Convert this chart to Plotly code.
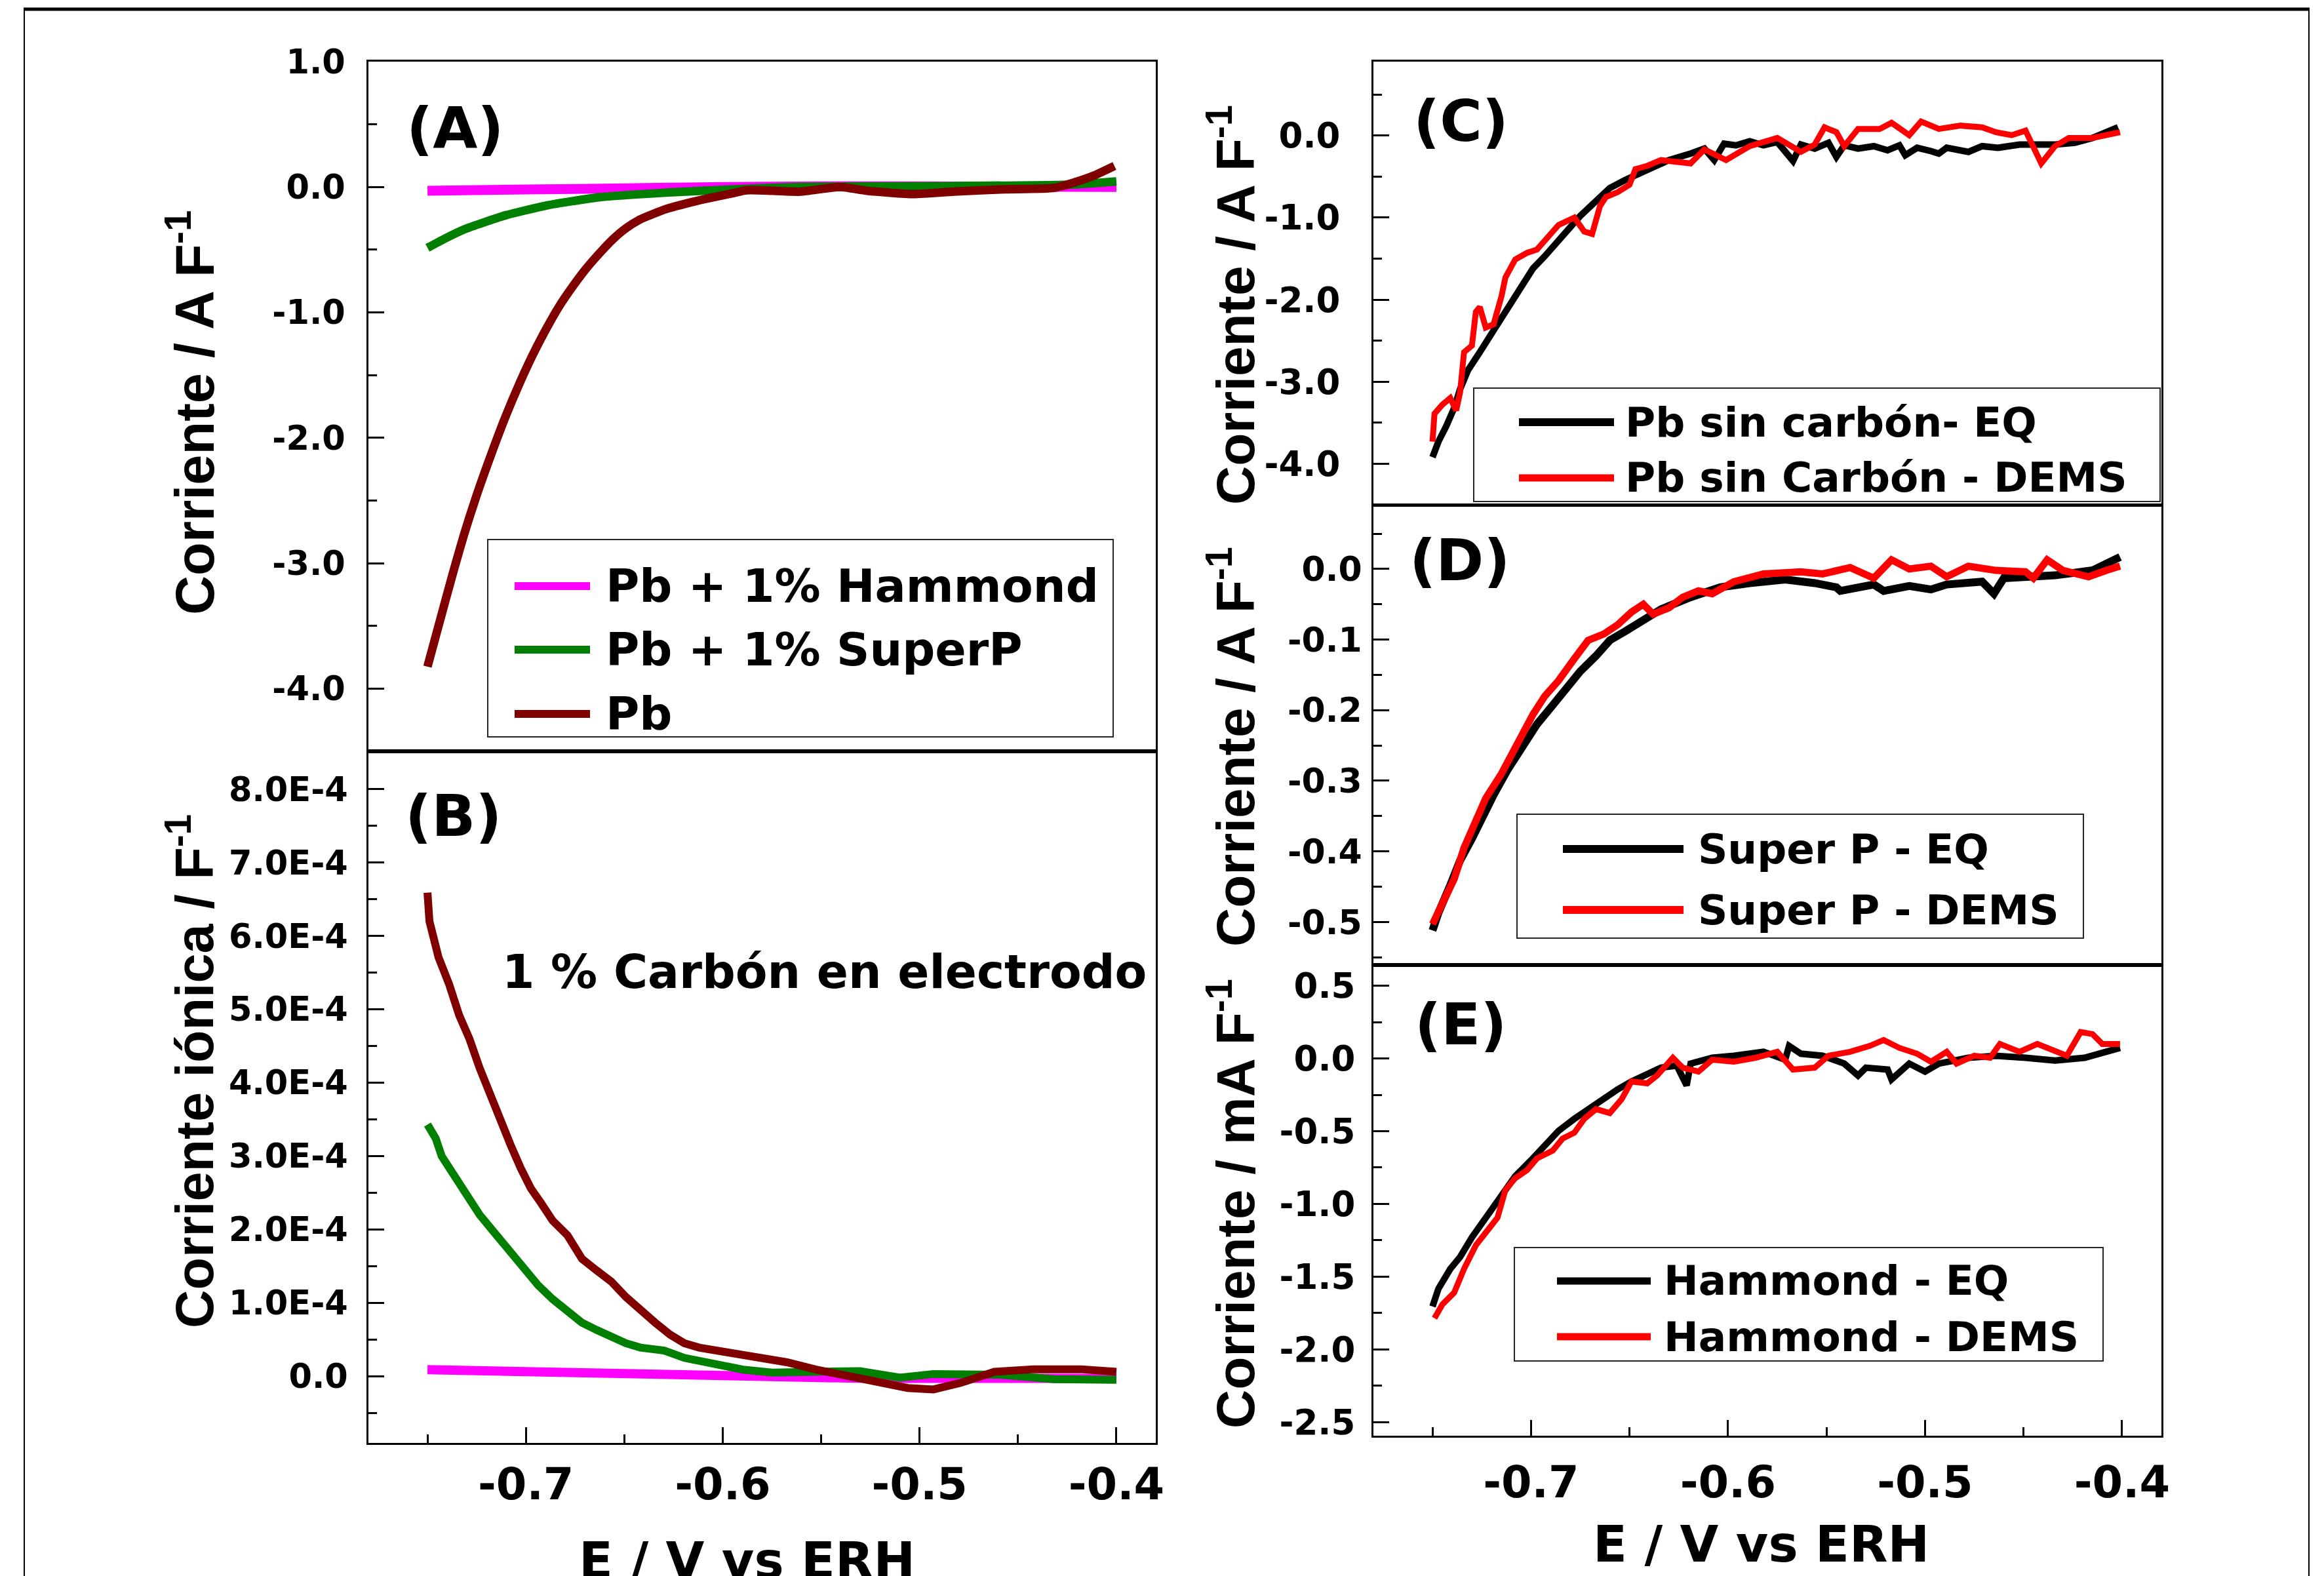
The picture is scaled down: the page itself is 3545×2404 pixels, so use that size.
import plotly.graph_objects as go

W, H = 3545, 2404

# ---------------- DATA ----------------
# Panel A: Corriente / A F-1 vs E
a_pb_e = [-0.750, -0.7442, -0.7374, -0.7307, -0.7239, -0.7171, -0.7103, -0.7035, -0.6967, -0.6899, -0.6831,
          -0.6763, -0.6695, -0.6627, -0.6559, -0.6491, -0.6423, -0.6355, -0.6287, -0.6185, -0.6083, -0.5947,
          -0.5879, -0.5743, -0.5607, -0.5404, -0.5268, -0.5030, -0.4826, -0.4588, -0.4316, -0.4214, -0.4112, -0.4010]
a_pb_i = [-3.825, -3.489, -3.098, -2.735, -2.407, -2.109, -1.829, -1.575, -1.344, -1.138, -0.952,
          -0.795, -0.653, -0.530, -0.418, -0.328, -0.261, -0.216, -0.175, -0.131, -0.093, -0.049,
          -0.026, -0.030, -0.037, 0.000, -0.030, -0.056, -0.037, -0.019, -0.007, 0.037, 0.093, 0.168]
a_sp_e = [-0.750, -0.741, -0.731, -0.721, -0.710, -0.690, -0.676, -0.663, -0.629, -0.595, -0.561, -0.493, -0.425, -0.400]
a_sp_i = [-0.485, -0.41, -0.336, -0.28, -0.224, -0.149, -0.112, -0.082, -0.045, -0.019, 0.0, 0.007, 0.019, 0.045]
a_ha_e = [-0.750, -0.700, -0.650, -0.600, -0.550, -0.500, -0.450, -0.400]
a_ha_i = [-0.03, -0.02, -0.01, 0.0, 0.005, 0.005, 0.003, 0.0]

# Panel B: Corriente iónica / F-1 vs E
b_pb_e = [-0.750, -0.749, -0.7444, -0.7391, -0.7339, -0.7287, -0.7235, -0.7183, -0.7131, -0.7079, -0.7027,
          -0.6975, -0.6923, -0.6864, -0.6789, -0.6715, -0.6640, -0.6566, -0.6492, -0.6418, -0.6343, -0.6269,
          -0.6195, -0.6120, -0.5972, -0.5823, -0.5674, -0.5526, -0.5377, -0.5276, -0.520, -0.506, -0.493,
          -0.479, -0.462, -0.442, -0.418, -0.400]
b_pb_i = [6.59e-4, 6.20e-4, 5.71e-4, 5.35e-4, 4.92e-4, 4.60e-4, 4.20e-4, 3.84e-4, 3.52e-4, 3.16e-4, 2.84e-4,
          2.56e-4, 2.36e-4, 2.12e-4, 1.92e-4, 1.60e-4, 1.44e-4, 1.29e-4, 1.08e-4, 0.89e-4, 0.73e-4, 0.57e-4,
          0.45e-4, 0.39e-4, 0.33e-4, 0.27e-4, 0.19e-4, 0.09e-4, 0.01e-4, -0.07e-4, -0.10e-4, -0.16e-4, -0.18e-4,
          -0.09e-4, 0.06e-4, 0.095e-4, 0.095e-4, 0.06e-4]
b_sp_e = [-0.750, -0.7458, -0.7428, -0.7369, -0.7309, -0.7235, -0.7161, -0.7086, -0.7012, -0.6938, -0.6864,
          -0.6789, -0.6715, -0.6640, -0.6566, -0.6492, -0.6418, -0.6298, -0.6195, -0.6046, -0.5897, -0.5749,
          -0.5526, -0.5303, -0.510, -0.493, -0.459, -0.432, -0.400]
b_sp_i = [3.43e-4, 3.24e-4, 3.00e-4, 2.76e-4, 2.52e-4, 2.20e-4, 1.96e-4, 1.72e-4, 1.48e-4, 1.24e-4, 1.05e-4,
          0.89e-4, 0.73e-4, 0.63e-4, 0.53e-4, 0.45e-4, 0.39e-4, 0.35e-4, 0.25e-4, 0.17e-4, 0.09e-4, 0.05e-4,
          0.05e-4, 0.07e-4, -0.02e-4, 0.03e-4, 0.02e-4, -0.04e-4, -0.05e-4]
b_ha_e = [-0.750, -0.731, -0.697, -0.663, -0.629, -0.595, -0.561, -0.527, -0.493, -0.459, -0.425, -0.400]
b_ha_i = [0.09e-4, 0.08e-4, 0.05e-4, 0.03e-4, 0.01e-4, -0.01e-4, -0.02e-4, -0.03e-4, -0.03e-4, -0.03e-4, -0.03e-4, -0.03e-4]

# Panel C: Pb sin carbón
c_eq_e = [-0.750, -0.747, -0.743, -0.739, -0.736, -0.732, -0.726, -0.721, -0.715, -0.710, -0.704, -0.699,
          -0.693, -0.687, -0.682, -0.675, -0.667, -0.660, -0.652, -0.641, -0.630, -0.619, -0.612, -0.607,
          -0.602, -0.596, -0.589, -0.582, -0.575, -0.567, -0.563, -0.556, -0.549, -0.545, -0.541, -0.534,
          -0.526, -0.519, -0.513, -0.510, -0.504, -0.497, -0.493, -0.489, -0.482, -0.478, -0.471, -0.463,
          -0.452, -0.441, -0.434, -0.424, -0.415, -0.402]
c_eq_i = [-3.92, -3.73, -3.54, -3.32, -3.09, -2.86, -2.64, -2.45, -2.22, -2.03, -1.81, -1.62,
          -1.47, -1.32, -1.17, -0.98, -0.79, -0.64, -0.54, -0.41, -0.30, -0.22, -0.16, -0.30,
          -0.10, -0.12, -0.07, -0.12, -0.08, -0.31, -0.11, -0.16, -0.09, -0.26, -0.12, -0.16,
          -0.13, -0.18, -0.12, -0.24, -0.15, -0.19, -0.22, -0.15, -0.18, -0.20, -0.13, -0.15,
          -0.11, -0.12, -0.11, -0.09, -0.03, 0.10]
c_de_e = [-0.750, -0.749, -0.745, -0.741, -0.738, -0.736, -0.734, -0.730, -0.728, -0.726, -0.723, -0.719,
          -0.715, -0.713, -0.708, -0.702, -0.697, -0.691, -0.686, -0.678, -0.673, -0.669, -0.665, -0.662,
          -0.656, -0.650, -0.647, -0.641, -0.634, -0.619, -0.612, -0.601, -0.589, -0.575, -0.563, -0.556,
          -0.551, -0.545, -0.541, -0.534, -0.523, -0.517, -0.508, -0.502, -0.493, -0.482, -0.471, -0.464,
          -0.456, -0.449, -0.441, -0.434, -0.427, -0.415, -0.408, -0.401]
c_de_i = [-3.73, -3.39, -3.28, -3.20, -3.35, -3.13, -2.64, -2.56, -2.15, -2.09, -2.34, -2.30,
          -1.96, -1.73, -1.51, -1.43, -1.39, -1.24, -1.09, -1.00, -1.17, -1.20, -0.86, -0.75,
          -0.69, -0.60, -0.41, -0.37, -0.30, -0.34, -0.17, -0.30, -0.13, -0.03, -0.20, -0.11,
          0.10, 0.04, -0.13, 0.08, 0.08, 0.155, 0.004, 0.17, 0.08, 0.12, 0.10, 0.04,
          0.004, 0.06, -0.34, -0.13, -0.03, -0.03, 0.004, 0.04]

# Panel D: Super P
d_eq_e = [-0.750, -0.747, -0.741, -0.736, -0.730, -0.725, -0.719, -0.712, -0.704, -0.697, -0.689, -0.682,
          -0.675, -0.667, -0.660, -0.652, -0.645, -0.634, -0.619, -0.604, -0.589, -0.571, -0.556, -0.545,
          -0.543, -0.526, -0.521, -0.508, -0.497, -0.489, -0.471, -0.465, -0.460, -0.434, -0.415, -0.401]
d_eq_i = [-0.512, -0.487, -0.448, -0.413, -0.382, -0.351, -0.320, -0.285, -0.250, -0.220, -0.193, -0.167,
          -0.145, -0.123, -0.101, -0.088, -0.075, -0.057, -0.040, -0.026, -0.020, -0.015, -0.020, -0.026,
          -0.031, -0.022, -0.031, -0.024, -0.029, -0.022, -0.018, -0.035, -0.013, -0.009, -0.002, 0.017]
d_de_e = [-0.750, -0.745, -0.739, -0.734, -0.728, -0.723, -0.715, -0.710, -0.704, -0.699, -0.693, -0.686,
          -0.678, -0.671, -0.663, -0.656, -0.649, -0.643, -0.638, -0.630, -0.623, -0.615, -0.608, -0.597,
          -0.582, -0.563, -0.552, -0.538, -0.526, -0.517, -0.508, -0.497, -0.489, -0.478, -0.464, -0.449,
          -0.445, -0.438, -0.430, -0.417, -0.408, -0.401]
d_de_i = [-0.503, -0.474, -0.439, -0.395, -0.360, -0.325, -0.290, -0.263, -0.233, -0.206, -0.180, -0.158,
          -0.127, -0.101, -0.092, -0.079, -0.061, -0.050, -0.064, -0.055, -0.040, -0.031, -0.035, -0.018,
          -0.007, -0.004, -0.007, 0.002, -0.013, 0.013, 0.000, 0.004, -0.011, 0.004, -0.002, -0.004,
          -0.013, 0.013, -0.002, -0.011, -0.002, 0.004]

# Panel E: Hammond (mA F-1)
e_eq_e = [-0.750, -0.747, -0.741, -0.736, -0.730, -0.723, -0.715, -0.708, -0.700, -0.693, -0.686, -0.678,
          -0.671, -0.663, -0.656, -0.649, -0.641, -0.634, -0.626, -0.621, -0.619, -0.608, -0.597, -0.582,
          -0.571, -0.569, -0.563, -0.552, -0.541, -0.534, -0.530, -0.519, -0.517, -0.508, -0.500, -0.493,
          -0.478, -0.464, -0.449, -0.434, -0.419, -0.408, -0.401]
e_eq_i = [-1.705, -1.583, -1.447, -1.365, -1.230, -1.094, -0.945, -0.809, -0.700, -0.605, -0.497, -0.415,
          -0.348, -0.280, -0.212, -0.158, -0.103, -0.063, -0.049, -0.185, -0.035, 0.005, 0.019, 0.046,
          -0.008, 0.087, 0.033, 0.019, -0.035, -0.117, -0.063, -0.076, -0.144, -0.035, -0.090, -0.035,
          0.005, 0.019, 0.005, -0.014, 0.005, 0.046, 0.073]
e_de_e = [-0.749, -0.745, -0.739, -0.734, -0.728, -0.723, -0.717, -0.713, -0.708, -0.702, -0.697, -0.689,
          -0.684, -0.678, -0.673, -0.667, -0.660, -0.654, -0.649, -0.641, -0.636, -0.628, -0.623, -0.615,
          -0.608, -0.597, -0.586, -0.575, -0.567, -0.556, -0.549, -0.538, -0.528, -0.521, -0.513, -0.504,
          -0.497, -0.489, -0.484, -0.475, -0.467, -0.462, -0.452, -0.443, -0.434, -0.428, -0.421, -0.415,
          -0.410, -0.401]
e_de_i = [-1.786, -1.691, -1.610, -1.447, -1.284, -1.203, -1.094, -0.904, -0.823, -0.768, -0.687, -0.633,
          -0.551, -0.510, -0.415, -0.348, -0.375, -0.280, -0.158, -0.171, -0.117, 0.005, -0.063, -0.090,
          -0.008, -0.022, 0.005, 0.046, -0.076, -0.063, 0.019, 0.046, 0.087, 0.127, 0.073, 0.033,
          -0.022, 0.046, -0.035, 0.019, 0.005, 0.100, 0.046, 0.100, 0.046, 0.019, 0.182, 0.168,
          0.100, 0.100]

# Tick labels
x_tickvals = [-0.7, -0.6, -0.5, -0.4]
x_ticktext = ["-0.7", "-0.6", "-0.5", "-0.4"]
a_tickvals = [1, 0, -1, -2, -3, -4]
a_ticktext = ["1.0", "0.0", "-1.0", "-2.0", "-3.0", "-4.0"]
b_tickvals = [0, 1e-4, 2e-4, 3e-4, 4e-4, 5e-4, 6e-4, 7e-4, 8e-4]
b_ticktext = ["0.0", "1.0E-4", "2.0E-4", "3.0E-4", "4.0E-4", "5.0E-4", "6.0E-4", "7.0E-4", "8.0E-4"]
c_tickvals = [0, -1, -2, -3, -4]
c_ticktext = ["0.0", "-1.0", "-2.0", "-3.0", "-4.0"]
d_tickvals = [0, -0.1, -0.2, -0.3, -0.4, -0.5]
d_ticktext = ["0.0", "-0.1", "-0.2", "-0.3", "-0.4", "-0.5"]
e_tickvals = [0.5, 0, -0.5, -1.0, -1.5, -2.0, -2.5]
e_ticktext = ["0.5", "0.0", "-0.5", "-1.0", "-1.5", "-2.0", "-2.5"]

MAGENTA, GREEN, DARKRED, BLACK, RED = "#FF00FF", "#007F00", "#800000", "#000000", "#FF0000"

# ---------------- FIGURE ----------------
OFF = 8  # page body margin compensation

def px(xp):
    return (xp - OFF) / W

def py(yp):
    return 1 - (yp - OFF) / H

fig = go.Figure()

def add(x, y, color, width, ax, shape="linear"):
    fig.add_trace(go.Scatter(x=x, y=y, mode="lines",
                             line=dict(color=color, width=width, shape=shape, smoothing=0.6 if shape == "spline" else None),
                             xaxis="x" + ax, yaxis="y" + ax, showlegend=False, hoverinfo="skip"))

add(a_ha_e, a_ha_i, MAGENTA, 15, "", "spline")
add(a_sp_e, a_sp_i, GREEN, 13, "", "spline")
add(a_pb_e, a_pb_i, DARKRED, 13, "", "spline")
add(b_ha_e, b_ha_i, MAGENTA, 14, "2")
add(b_sp_e, b_sp_i, GREEN, 12, "2")
add(b_pb_e, b_pb_i, DARKRED, 12, "2")
add(c_eq_e, c_eq_i, BLACK, 10, "3")
add(c_de_e, c_de_i, RED, 9, "3")
add(d_eq_e, d_eq_i, BLACK, 12, "4")
add(d_de_e, d_de_i, RED, 11, "4")
add(e_eq_e, e_eq_i, BLACK, 10, "5")
add(e_de_e, e_de_i, RED, 9, "5")

TICKFONT = dict(family="DejaVu Sans", size=51, color="black", weight="bold")
XTICKFONT = dict(family="DejaVu Sans", size=67, color="black", weight="bold")

def xaxis(dom, anchor, labels, standoff=0):
    d = dict(domain=dom, anchor=anchor, range=[-0.78, -0.38], showline=True, linecolor="black",
             linewidth=3, mirror=True, showgrid=False, zeroline=False, automargin=False)
    if labels:
        d.update(ticks="inside", ticklen=24, tickwidth=3, tickcolor="black",
                 tickmode="array", tickvals=x_tickvals, ticktext=x_ticktext,
                 tickfont=XTICKFONT, ticklabelstandoff=standoff,
                 minor=dict(ticks="inside", ticklen=13, tickwidth=3, tickcolor="black",
                            tickmode="linear", tick0=-0.75, dtick=0.1))
    else:
        d.update(ticks="", showticklabels=False)
    return d

def yaxis(dom, anchor, rng, tv, tt, m0, mdt, standoff, size=51):
    f = dict(TICKFONT)
    f["size"] = size
    return dict(domain=dom, anchor=anchor, range=rng, showline=True, linecolor="black",
                linewidth=3, mirror=True, showgrid=False, zeroline=False, automargin=False,
                ticks="inside", ticklen=24, tickwidth=3, tickcolor="black",
                tickmode="array", tickvals=tv, ticktext=tt, tickfont=f,
                ticklabelstandoff=standoff,
                minor=dict(ticks="inside", ticklen=13, tickwidth=3, tickcolor="black",
                           tickmode="linear", tick0=m0, dtick=mdt))

LX = [px(562), px(1763)]
RX = [px(2095), px(3297)]

fig.update_layout(
    width=W, height=H, autosize=False,
    margin=dict(l=0, r=0, t=0, b=0, pad=0, autoexpand=False),
    paper_bgcolor="white", plot_bgcolor="white",
    showlegend=False,
    xaxis=xaxis(LX, "y", False),
    yaxis=yaxis([py(1146), py(94)], "x", [-4.5, 1.0], a_tickvals, a_ticktext, 0.5, 1.0, 22),
    xaxis2=xaxis(LX, "y2", True, 3),
    yaxis2=yaxis([py(2201), py(1146)], "x2", [-0.909e-4, 8.517e-4], b_tickvals, b_ticktext, 0.5e-4, 1e-4, 18),
    xaxis3=xaxis(RX, "y3", False),
    yaxis3=yaxis([py(770), py(94)], "x3", [-4.5, 0.9], c_tickvals, c_ticktext, 0.5, 1.0, 37, 53),
    xaxis4=xaxis(RX, "y4", False),
    yaxis4=yaxis([py(1472), py(771)], "x4", [-0.561, 0.09], d_tickvals, d_ticktext, 0.05, 0.1, 4, 52),
    xaxis5=xaxis(RX, "y5", True, 11),
    yaxis5=yaxis([py(2190), py(1472)], "x5", [-2.594, 0.643], e_tickvals, e_ticktext, 0.25, 0.5, 14, 53),
)

ann = []
def text(x, y, s, size, family="DejaVu Sans", xanchor="center", angle=0):
    ann.append(dict(x=px(x), y=py(y), xref="paper", yref="paper", text=s, showarrow=False,
                    xanchor=xanchor, yanchor="middle", textangle=angle,
                    font=dict(family=family, size=size, color="black", weight="bold")))

# panel labels
text(694, 195, "(A)", 88)
text(692, 1244, "(B)", 88)
text(2228, 184, "(C)", 88)
text(2226, 854, "(D)", 88)
text(2228, 1562, "(E)", 88)
text(1257, 1482, "1 % Carbón en electrodo", 71)

# y titles
YT = "Liberation Sans"
text(291, 630, "Corriente / A F<sup>-1</sup>", 83, YT, angle=-90)
text(291, 1634, "Corriente iónica / F<sup>-1</sup>", 81, YT, angle=-90)
text(1878, 465, "Corriente / A F<sup>-1</sup>", 82, YT, angle=-90)
text(1878, 1139, "Corriente / A F<sup>-1</sup>", 82, YT, angle=-90)
text(1878, 1836, "Corriente / mA F<sup>-1</sup>", 82, YT, angle=-90)

# x titles
text(1139, 2380, "E / V vs ERH", 76)
text(2686, 2355, "E / V vs ERH", 76)

shapes = []
def rect(x0, y0, x1, y1):
    shapes.append(dict(type="rect", xref="paper", yref="paper", x0=px(x0), y0=py(y0), x1=px(x1), y1=py(y1),
                       line=dict(color="#222222", width=2), fillcolor="white", layer="above"))

def legline(x0, x1, y, color, width=10):
    shapes.append(dict(type="line", xref="paper", yref="paper", x0=px(x0), y0=py(y), x1=px(x1), y1=py(y),
                       line=dict(color=color, width=width), layer="above"))

# legend A
rect(744, 823, 1698, 1124)
legline(785, 900, 894, MAGENTA, 12)
legline(785, 900, 991, GREEN, 12)
legline(785, 900, 1089, DARKRED, 12)
text(922, 894, "Pb + 1% Hammond", 70, xanchor="left")
text(922, 991, "Pb + 1% SuperP", 70, xanchor="left")
text(922, 1089, "Pb", 70, xanchor="left")

# legend C
rect(2248, 592, 3295, 765)
legline(2317, 2462, 644, BLACK, 12)
legline(2317, 2462, 729, RED, 11)
text(2477, 644, "Pb sin carbón- EQ", 63, xanchor="left")
text(2477, 729, "Pb sin Carbón - DEMS", 63, xanchor="left")

# legend D
rect(2314, 1242, 3178, 1431)
legline(2384, 2568, 1295, BLACK, 12)
legline(2384, 2568, 1388, RED, 12)
text(2588, 1295, "Super P - EQ", 63, xanchor="left")
text(2588, 1388, "Super P - DEMS", 63, xanchor="left")

# legend E
rect(2310, 1903, 3208, 2076)
legline(2375, 2518, 1954, BLACK, 11)
legline(2375, 2518, 2039, RED, 11)
text(2536, 1954, "Hammond - EQ", 63, xanchor="left")
text(2536, 2039, "Hammond - DEMS", 63, xanchor="left")

# outer frame
def fline(x0, y0, x1, y1, w):
    shapes.append(dict(type="line", xref="paper", yref="paper", x0=px(x0), y0=py(y0), x1=px(x1), y1=py(y1),
                       line=dict(color="black", width=w), layer="above"))
fline(36, 14, 3523, 14, 5)
fline(37, 14, 37, 2412, 2)
fline(3522, 14, 3522, 2412, 2)

fig.update_layout(annotations=ann, shapes=shapes)
fig.write_html("out.html")
